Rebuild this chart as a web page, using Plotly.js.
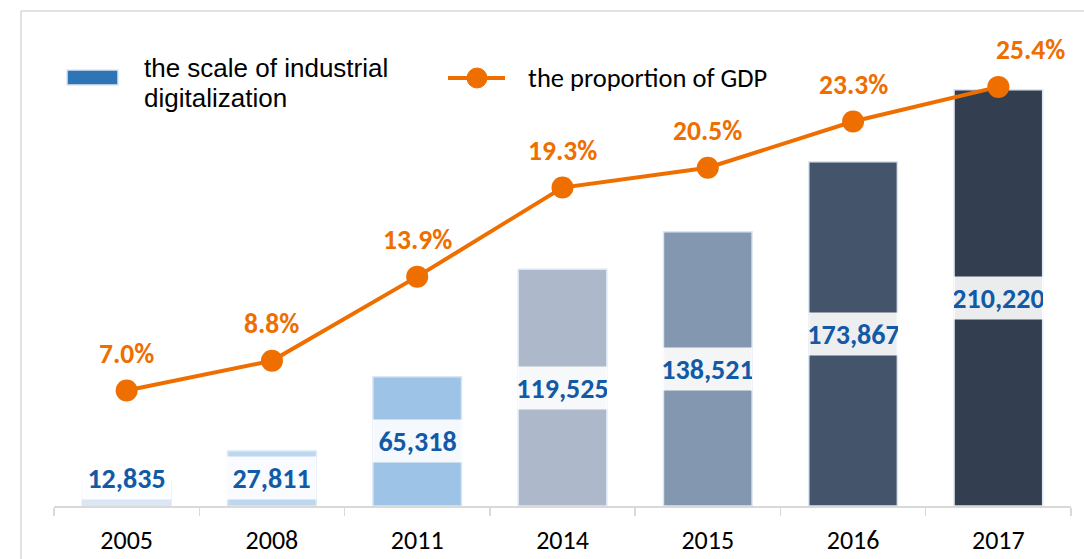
<!DOCTYPE html>
<html>
<head>
<meta charset="utf-8">
<script src="https://cdn.plot.ly/plotly-3.0.1.min.js"></script>
<style>
  html, body { margin: 0; padding: 0; background: #fff; }
  #chart { width: 1084px; height: 559px; }
</style>
</head>
<body>
<div id="chart"></div>
<script>
const years = ["2005", "2008", "2011", "2014", "2015", "2016", "2017"];
const scaleValues = [12835, 27811, 65318, 119525, 138521, 173867, 210220];
const gdpShare = [7.0, 8.8, 13.9, 19.3, 20.5, 23.3, 25.4];
const barColors = ["#dbe7f4", "#bdd7ee", "#9dc3e6", "#adb9ca", "#8497b0", "#44546a", "#333f50"];

const ORANGE = "#ee6e00";
const LABEL_BLUE = "#1259a6";
const CAL = "Carlito, Lato, 'Open Sans', sans-serif";

// plot area in pixels, used for the hand drawn legend and frame
const P = { l: 54, t: 11, w: 1017, h: 495 };
function px(x) { return (x - P.l) / P.w; }
function py(y) { return (P.t + P.h - y) / P.h; }

const chartDiv = document.getElementById("chart");

const barTrace = {
    x: years,
    y: scaleValues,
    type: "bar",
    marker: { color: barColors, line: { color: "#dce6f2", width: 1.5 } },
    hoverinfo: "x+y",
    showlegend: false
};

const lineTrace = {
    x: years,
    y: gdpShare,
    yaxis: "y2",
    type: "scatter",
    mode: "lines+markers",
    line: { color: ORANGE, width: 4 },
    marker: { color: ORANGE, size: 22 },
    showlegend: false
};

// value labels sit in the middle of each bar on a whitish box
// (x given as category index so the axis keeps its category scale)
const valueLabels = years.map((yr, i) => ({
    x: i,
    y: Math.max(scaleValues[i] / 2, 14000),
    xref: "x", yref: "y",
    text: scaleValues[i].toLocaleString("en-US"),
    showarrow: false,
    bgcolor: "rgba(255,255,255,0.9)",
    width: 89, height: 42, borderpad: 0,
    font: { family: CAL, size: 28, color: LABEL_BLUE, weight: 700 }
}));

const pctLabels = years.map((yr, i) => ({
    x: i,
    y: gdpShare[i],
    xref: "x", yref: "y2",
    text: gdpShare[i].toFixed(1) + "%",
    showarrow: false,
    yshift: 37,
    xshift: i === years.length - 1 ? 32 : 0,
    font: { family: CAL, size: 27.5, color: ORANGE, weight: 700 }
}));

const legendFont = { family: "'Liberation Sans', Arial, sans-serif", size: 26, color: "#000" };
const legendText = [
    {
        x: px(142), y: py(68), xref: "paper", yref: "paper",
        xanchor: "left", yanchor: "middle",
        text: "the scale of industrial", showarrow: false, font: legendFont
    },
    {
        x: px(142), y: py(98), xref: "paper", yref: "paper",
        xanchor: "left", yanchor: "middle",
        text: "digitalization", showarrow: false, font: legendFont
    },
    {
        x: px(526), y: py(78), xref: "paper", yref: "paper",
        xanchor: "left", yanchor: "middle",
        text: "the proportion of GDP", showarrow: false,
        font: { family: CAL, size: 26.5, color: "#000" }
    }
];

const shapes = [
    // outer frame (top and left edges only are visible)
    { type: "line", xref: "paper", yref: "paper", x0: px(21), x1: px(1090), y0: py(11), y1: py(11),
      line: { color: "#d9d9d9", width: 1.5 } },
    { type: "line", xref: "paper", yref: "paper", x0: px(21), x1: px(21), y0: py(11), y1: py(565),
      line: { color: "#d9d9d9", width: 1.5 } },
    // legend glyphs
    { type: "rect", xref: "paper", yref: "paper", x0: px(67), x1: px(118), y0: py(85), y1: py(70),
      fillcolor: "#2e75b6", line: { color: "#dce6f2", width: 1.5 } },
    { type: "line", xref: "paper", yref: "paper", x0: px(448), x1: px(505), y0: py(78), y1: py(78),
      line: { color: ORANGE, width: 4 } },
    { type: "circle", xref: "paper", yref: "paper", x0: px(467), x1: px(487), y0: py(88), y1: py(68),
      fillcolor: ORANGE, line: { color: ORANGE, width: 1 } }
];

const layout = {
    width: 1084,
    height: 559,
    margin: { l: P.l, r: 1084 - P.l - P.w, t: P.t, b: 559 - P.t - P.h },
    paper_bgcolor: "#fff",
    plot_bgcolor: "#fff",
    bargap: 0.39,
    xaxis: {
        type: "category",
        categoryorder: "array", categoryarray: years,
        range: [-0.5, years.length - 0.5],
        showline: true, linecolor: "#d9d9d9", linewidth: 1.5,
        ticks: "outside", tickson: "boundaries", ticklen: 8, tickcolor: "#d9d9d9", tickwidth: 1.5,
        tickangle: 0, ticklabelstandoff: 10,
        tickfont: { family: CAL, size: 26, color: "#000" },
        showgrid: false, zeroline: false, fixedrange: true
    },
    yaxis: {
        range: [0, 250000], visible: false, showgrid: false, zeroline: false, fixedrange: true
    },
    yaxis2: {
        range: [0, 30], overlaying: "y", side: "right", visible: false,
        showgrid: false, zeroline: false, fixedrange: true
    },
    shapes: shapes,
    annotations: valueLabels.concat(pctLabels, legendText),
    showlegend: false
};

Plotly.newPlot(chartDiv, [barTrace, lineTrace], layout, { displayModeBar: false, staticPlot: true });
</script>
</body>
</html>
